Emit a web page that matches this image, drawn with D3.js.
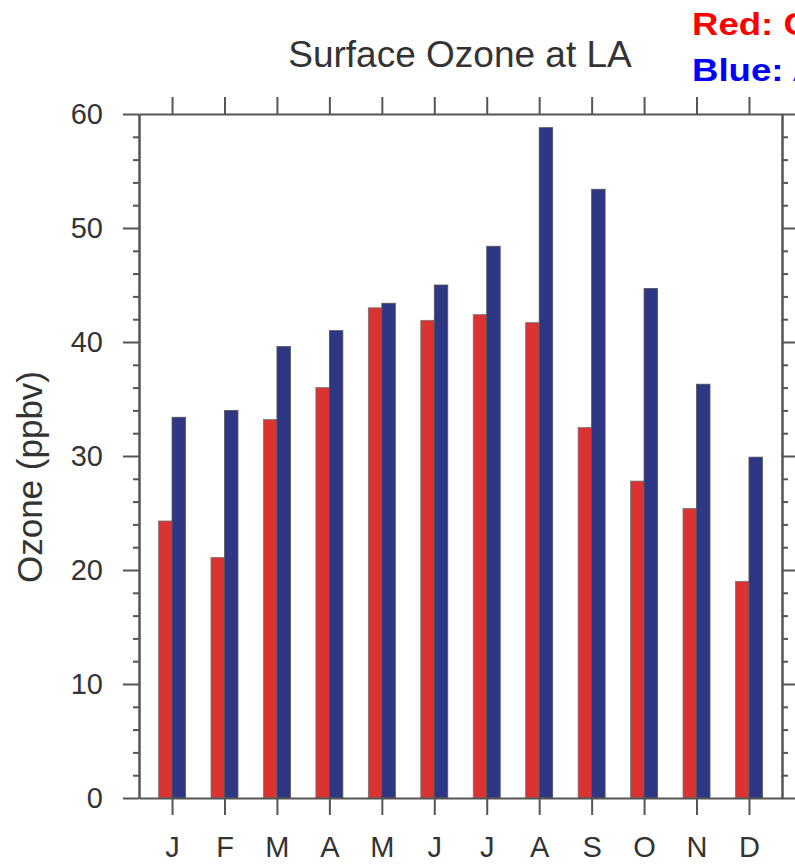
<html><head>
<script src="https://d3js.org/d3.v7.min.js"></script>
<style>
  body { margin: 0; background: white; }
  text { font-family: 'Liberation Sans', Arial, sans-serif; }
  .tick-label { font-size: 29px; fill: #333; }
  .month-label { font-size: 29px; fill: #333; }
</style>
</head>
<body>
<svg id="chart" width="795" height="866"></svg>
<script>
// data
const months = ["J","F","M","A","M","J","J","A","S","O","N","D"];
const redValues  = [24.3, 21.1, 33.2, 36.0, 43.0, 41.9, 42.4, 41.7, 32.5, 27.8, 25.4, 19.0];
const blueValues = [33.4, 34.0, 39.6, 41.0, 43.4, 45.0, 48.4, 58.8, 53.4, 44.7, 36.3, 29.9];
const yTicks = [0, 10, 20, 30, 40, 50, 60];

const svg = d3.select("#chart");
const margin = {top: 114, left: 139, right: 13, bottom: 68};
const plotW = 795 - margin.left - margin.right;
const plotH = 866 - margin.top - margin.bottom;
const g = svg.append("g").attr("transform", `translate(${margin.left},${margin.top})`);

const x = d3.scaleLinear().domain([0.37, 12.63]).range([0, plotW]);
const y = d3.scaleLinear().domain([0, 60]).range([plotH, 0]);
const barW = 13.5;

// bars
g.selectAll("rect.red").data(redValues).join("rect")
  .attr("class","red")
  .attr("x", (d,i) => x(i+1) - barW)
  .attr("y", d => y(d))
  .attr("width", barW)
  .attr("height", d => plotH - y(d))
  .attr("fill", "#db3232")
  .attr("stroke", "#777").attr("stroke-width", 0.8);

g.selectAll("rect.blue").data(blueValues).join("rect")
  .attr("class","blue")
  .attr("x", (d,i) => x(i+1))
  .attr("y", d => y(d))
  .attr("width", barW)
  .attr("height", d => plotH - y(d))
  .attr("fill", "#2d3783")
  .attr("stroke", "#555").attr("stroke-width", 0.8);

// axes - outward ticks on all sides like NCL
const tickCol = "#555";
const minorY = d3.range(0, 61, 2).filter(v => v % 10 != 0);
const monthPos = months.map((m,i) => i+1);

function styleAxis(sel) {
  sel.select(".domain").attr("stroke", tickCol).attr("stroke-width", 2);
  sel.selectAll(".tick line").attr("stroke", tickCol).attr("stroke-width", 2);
}

// left
g.append("g").call(d3.axisLeft(y).tickValues(minorY).tickSize(6).tickFormat("").tickSizeOuter(0)).call(styleAxis);
g.append("g").call(d3.axisLeft(y).tickValues(yTicks).tickSize(16).tickSizeOuter(0).tickPadding(20))
  .call(styleAxis)
  .selectAll("text").attr("class","tick-label").attr("font-size", null).attr("font-family", null);
// right
g.append("g").attr("transform", `translate(${plotW},0)`)
  .call(d3.axisRight(y).tickValues(minorY).tickSize(6).tickFormat("").tickSizeOuter(0)).call(styleAxis);
g.append("g").attr("transform", `translate(${plotW},0)`)
  .call(d3.axisRight(y).tickValues(yTicks).tickSize(16).tickFormat("").tickSizeOuter(0)).call(styleAxis);
// bottom
g.append("g").attr("transform", `translate(0,${plotH})`)
  .call(d3.axisBottom(x).tickValues(monthPos).tickSize(17).tickSizeOuter(0).tickPadding(21)
    .tickFormat((d,i) => months[i]))
  .call(styleAxis)
  .selectAll("text").attr("class","month-label").attr("font-size", null).attr("font-family", null);
// top
g.append("g")
  .call(d3.axisTop(x).tickValues(monthPos).tickSize(17).tickSizeOuter(0).tickFormat(""))
  .call(styleAxis);

// title and labels
svg.append("text")
  .attr("x", 460).attr("y", 67)
  .attr("text-anchor", "middle")
  .attr("font-size", 37).attr("fill", "#333")
  .text("Surface Ozone at LA");

svg.append("text")
  .attr("transform", `translate(42,477)rotate(-90)`)
  .attr("text-anchor", "middle")
  .attr("font-size", 35).attr("fill", "#333")
  .text("Ozone (ppbv)");

// legend text, cut by the right edge as in the original
svg.append("text")
  .attr("transform", "translate(692,35) scale(1.18,1)")
  .attr("font-size", 31).attr("font-weight", "bold").attr("fill", "#ff0000")
  .text("Red: CTRL");
svg.append("text")
  .attr("transform", "translate(692,81) scale(1.18,1)")
  .attr("font-size", 31).attr("font-weight", "bold").attr("fill", "#0000ff")
  .text("Blue: AM3");
</script>
</body>
</html>
